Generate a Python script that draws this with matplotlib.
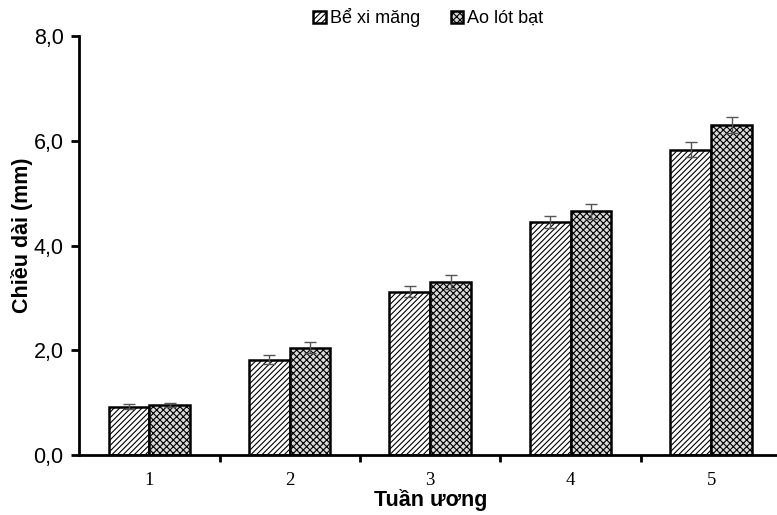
import numpy as np
import matplotlib
matplotlib.use('Agg')
import matplotlib.pyplot as plt
from matplotlib.ticker import FixedLocator, NullFormatter

plt.rcParams['hatch.linewidth'] = 0.8

weeks = ['1', '2', '3', '4', '5']
be_xi_mang = [0.92, 1.82, 3.12, 4.45, 5.83]
be_err = [0.05, 0.08, 0.10, 0.12, 0.14]
ao_lot_bat = [0.95, 2.05, 3.30, 4.65, 6.30]
ao_err = [0.04, 0.10, 0.13, 0.14, 0.15]

fig = plt.figure(figsize=(7.77, 5.15), dpi=100)
ax = fig.add_axes([0.1017, 0.1165, 0.904, 0.8136])

x = np.arange(1, len(weeks) + 1)
w = 0.29
err_kw = dict(ecolor='#555555', elinewidth=1.0, capsize=4.5, capthick=1.0)
ax.bar(x - w / 2, be_xi_mang, w, yerr=be_err, color='white', edgecolor='black',
       hatch='//////', linewidth=1.8, error_kw=err_kw, label='Bể xi măng')
ax.bar(x + w / 2, ao_lot_bat, w, yerr=ao_err, color='#d9d9d9', edgecolor='black',
       hatch='xxxxx', linewidth=1.8, error_kw=err_kw, label='Ao lót bạt')

ax.set_xlim(0.5, 5.5)
ax.set_ylim(0, 8)
ax.set_yticks([0, 2, 4, 6, 8])
ax.set_yticklabels(['0,0', '2,0', '4,0', '6,0', '8,0'], fontsize=15.5, family='Liberation Sans')
ax.set_xticks(x)
ax.set_xticklabels(weeks, fontsize=13.5, family='Liberation Serif')
ax.tick_params(axis='x', which='major', length=0, pad=12)
ax.xaxis.set_minor_locator(FixedLocator([1.5, 2.5, 3.5, 4.5]))
ax.xaxis.set_minor_formatter(NullFormatter())
ax.tick_params(axis='x', which='minor', length=5, width=2, direction='out')
ax.tick_params(axis='y', length=6, width=2, direction='out', pad=5)

for s in ['top', 'right']:
    ax.spines[s].set_visible(False)
for s in ['left', 'bottom']:
    ax.spines[s].set_linewidth(2)

ax.set_ylabel('Chiều dài (mm)', fontsize=15.5, fontweight='bold', family='Liberation Sans')
ax.yaxis.set_label_coords(-0.066, 0.525)
ax.set_xlabel('Tuần ương', fontsize=15.5, fontweight='bold', family='Liberation Sans', labelpad=0)

ax.legend(loc='upper center', bbox_to_anchor=(0.497, 1.105), ncol=2, frameon=False,
          prop={'family': 'Liberation Sans', 'size': 13}, handlelength=0.7, handleheight=0.7,
          handletextpad=0.2, columnspacing=1.7)

fig.savefig('out.png', dpi=100)
